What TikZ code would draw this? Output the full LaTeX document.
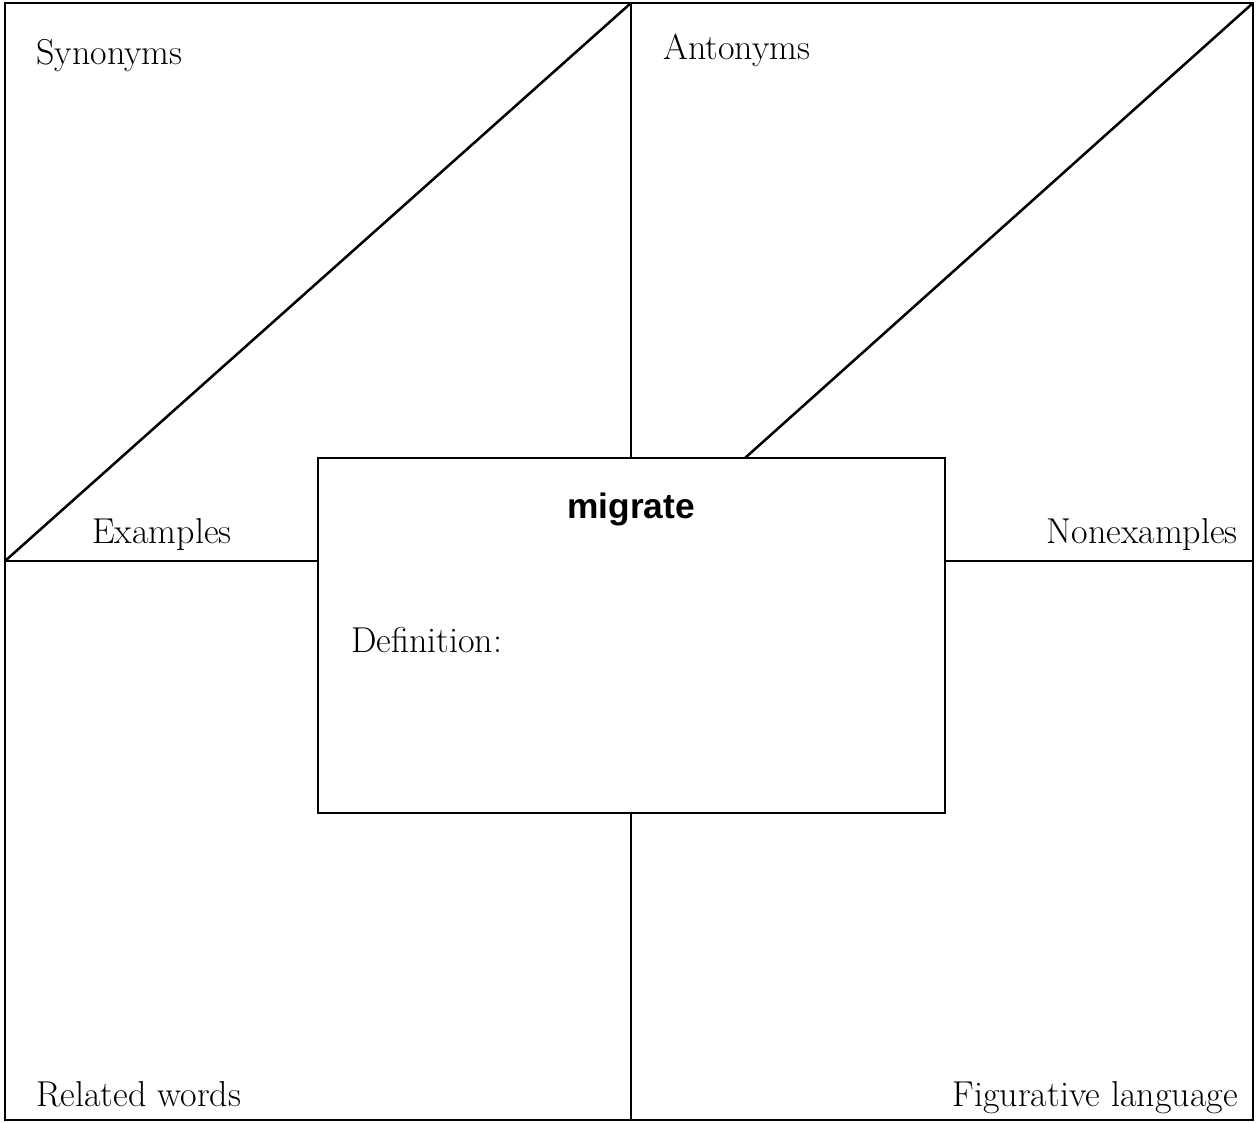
\documentclass[tikz,border=0pt]{standalone}
\usepackage{fontspec}
\newfontfamily\headfont{Liberation Sans}
\begin{document}
\begin{tikzpicture}[x=0.75pt,y=-0.75pt,
  frameline/.style={line width=1.9pt, line cap=rect},
  lbl/.style={font=\fontsize{27}{31}\selectfont, inner sep=0pt},
  headlbl/.style={font=\headfont\bfseries\fontsize{26.5}{30}\selectfont, inner sep=0pt}]
\useasboundingbox (0,0) rectangle (1256,1122);
\fill[white] (0,0) rectangle (1256,1122);
% frame corners
\coordinate (tl) at (5,3);
\coordinate (tr) at (1253,3);
\coordinate (bl) at (5,1120);
\coordinate (br) at (1253,1120);
\coordinate (topmid) at (631,3);
\coordinate (botmid) at (631,1120);
\coordinate (leftmid) at (5,561);
\coordinate (rightmid) at (1253,561);
\draw[frameline] (tl) rectangle (br);
% central box
\node[draw, line width=1.9pt, minimum width=470.25pt, minimum height=266.25pt, inner sep=0pt] (box) at (631.5,635.5) {};
\coordinate (diagstart) at (745,458);
% connectors
\draw[frameline] (topmid) -- (topmid |- box.north);
\draw[frameline] (botmid) -- (botmid |- box.south);
\draw[frameline] (leftmid) -- (leftmid -| box.west);
\draw[frameline] (rightmid) -- (rightmid -| box.east);
\draw[line width=1.9pt] (leftmid) -- (topmid);
\draw[line width=1.9pt] (diagstart) -- (tr);
% labels
\node[lbl, anchor=base west] (syn) at (36,64) {Synonyms};
\node[lbl, anchor=base west] (ant) at (663,59) {Antonyms};
\node[lbl, anchor=base west] (ex) at (92,543) {Examples};
\node[lbl, anchor=base east] (nonex) at (1238,543) {Nonexamples};
\node[lbl, anchor=base west] (def) at (351,652) {Definition:};
\node[lbl, anchor=base west] (rel) at (36,1106) {Related words};
\node[lbl, anchor=base east] (fig) at (1238,1106) {Figurative language};
\node[headlbl, anchor=base] (word) at (631,518) {migrate};
\end{tikzpicture}
\end{document}
